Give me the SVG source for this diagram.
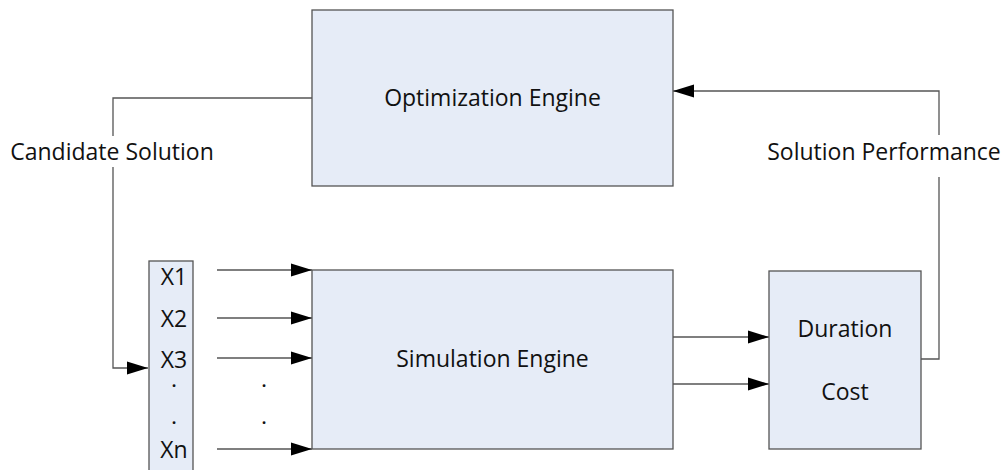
<svg xmlns="http://www.w3.org/2000/svg" width="1008" height="470" viewBox="0 0 1008 470">
<style>
.box{fill:#E6ECF7;stroke:#555;stroke-width:1.3}
.ln{fill:none;stroke:#555;stroke-width:1.3}
.t{font-family:"Open Sans","Liberation Sans",sans-serif;font-size:23px;fill:#111;text-anchor:middle}
.d{font-family:"Open Sans","Liberation Sans",sans-serif;font-size:16px;font-weight:bold;fill:#111;text-anchor:middle}
</style>
<defs>
<marker id="ah" markerWidth="22" markerHeight="14" refX="21" refY="7" orient="auto" markerUnits="userSpaceOnUse">
<path d="M0,0.5 L21,7 L0,13.5 Z" fill="#000"/>
</marker>
</defs>
<rect width="1008" height="470" fill="#fff"/>
<g id="connectors">
<polyline class="ln" points="312,98 113,98 113,136"/>
<polyline class="ln" points="113,167 113,368 148,368" marker-end="url(#ah)"/>
<polyline class="ln" points="921,359 939,359 939,177"/>
<polyline class="ln" points="939,135 939,91 673,91" marker-end="url(#ah)"/>
<line class="ln" x1="217" y1="270" x2="312" y2="270" marker-end="url(#ah)"/>
<line class="ln" x1="217" y1="318" x2="312" y2="318" marker-end="url(#ah)"/>
<line class="ln" x1="217" y1="358" x2="312" y2="358" marker-end="url(#ah)"/>
<line class="ln" x1="217" y1="449" x2="312" y2="449" marker-end="url(#ah)"/>
<line class="ln" x1="673" y1="337" x2="769" y2="337" marker-end="url(#ah)"/>
<line class="ln" x1="673" y1="384" x2="769" y2="384" marker-end="url(#ah)"/>
<text class="t" x="112" y="160">Candidate Solution</text>
<text class="t" x="884" y="160">Solution Performance</text>
<text class="d" x="264" y="387">.</text>
<text class="d" x="264" y="424">.</text>
</g>
<g id="optimization">
<rect class="box" x="312" y="10" width="361" height="176"/>
<text class="t" x="492.5" y="106">Optimization Engine</text>
</g>
<g id="simulation">
<rect class="box" x="312" y="270" width="361" height="179"/>
<text class="t" x="492.5" y="367">Simulation Engine</text>
</g>
<g id="variables">
<rect class="box" x="149" y="261" width="44" height="215"/>
<text class="t" x="174" y="285">X1</text>
<text class="t" x="174" y="327">X2</text>
<text class="t" x="174" y="368">X3</text>
<text class="d" x="174" y="387">.</text>
<text class="d" x="174" y="424">.</text>
<text class="t" x="174" y="458">Xn</text>
</g>
<g id="results">
<rect class="box" x="769" y="271" width="152" height="178"/>
<text class="t" x="845" y="337">Duration</text>
<text class="t" x="845" y="400">Cost</text>
</g>
</svg>
